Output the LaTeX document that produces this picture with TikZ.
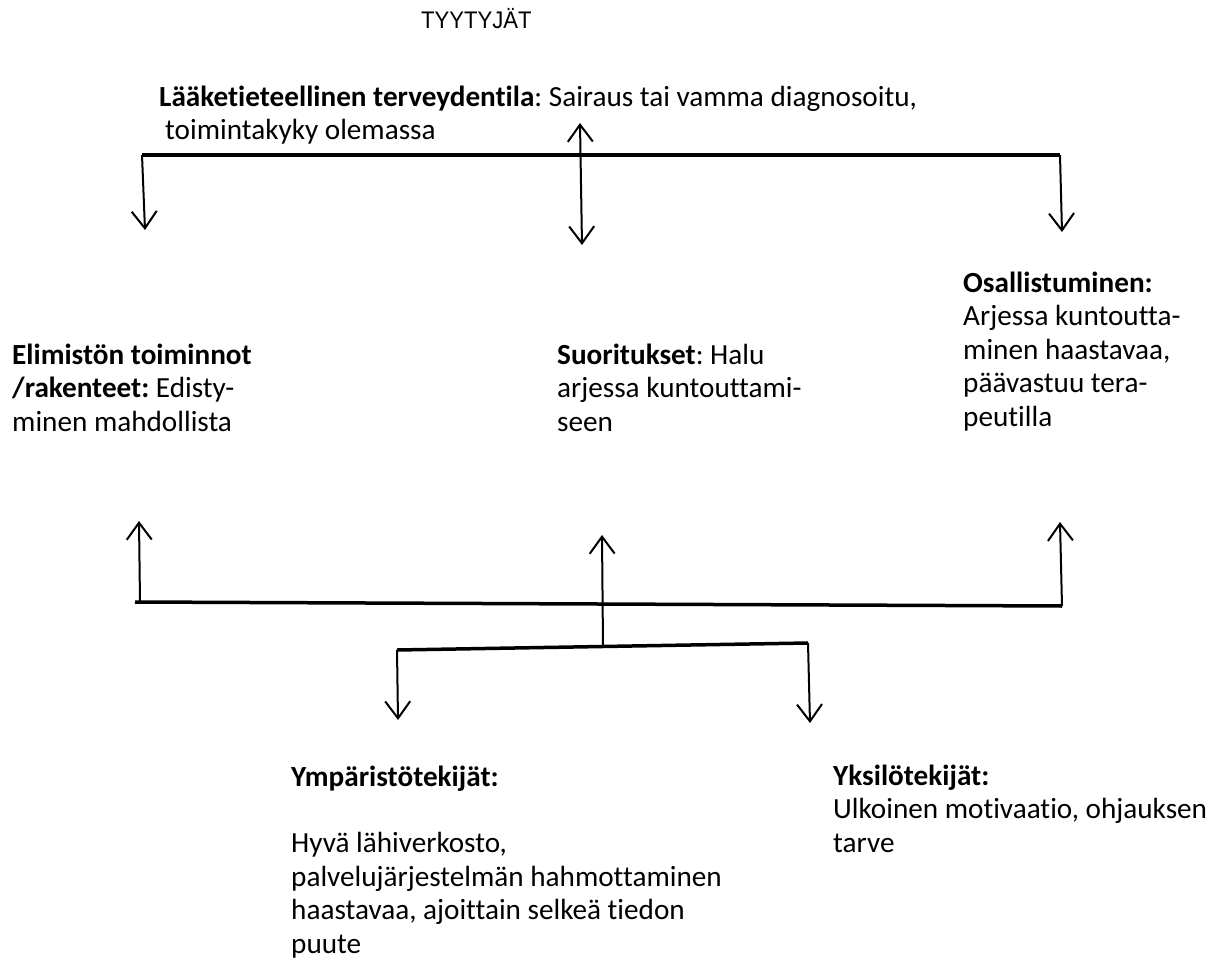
\documentclass[tikz,border=0pt]{standalone}
\usepackage{fontspec}
\setmainfont{Carlito}[Ligatures=NoCommon]
\newfontfamily\titlefont{Liberation Sans}
\usetikzlibrary{arrows.meta}
\frenchspacing

\begin{document}
\begin{tikzpicture}[x=1pt,y=-1pt,
  % multi-line text: the anchor sits on the baseline of the last line
  txt/.style={anchor=base west, align=left, inner sep=0pt,
              font=\fontsize{29.2}{33.5}\selectfont},
  bar/.style={line width=3.5pt},
  conn/.style={line width=2pt},
  arr/.style={conn, -{Straight Barb[length=17pt,width=25pt]}},
  darr/.style={conn, {Straight Barb[length=17pt,width=25pt]}-{Straight Barb[length=17pt,width=25pt]}},
]
\useasboundingbox (0,0) rectangle (1227,974);

% heading and text blocks
\node[anchor=base west, inner sep=0pt, font=\titlefont\fontsize{24}{28}\selectfont] (title) at (421,29) {\scalebox{0.92}[1]{TYYTYJÄT}};
\node[txt] (health) at (159,139.5) {\textbf{Lääketieteellinen terveydentila}: Sairaus tai vamma diagnosoitu,\\\hspace{6pt}toimintakyky olemassa};
\node[txt] (body) at (12,431) {\textbf{Elimistön toiminnot}\\\textbf{/rakenteet:} Edisty-\\minen mahdollista};
\node[txt] (activity) at (557,431) {\textbf{Suoritukset}: Halu\\arjessa kuntouttami-\\seen};
\node[txt] (particip) at (963,426) {\textbf{Osallistuminen:}\\Arjessa kuntoutta-\\minen haastavaa,\\päävastuu tera-\\peutilla};
\node[txt] (environ) at (291,953) {\textbf{Ympäristötekijät:}\\[33pt]Hyvä lähiverkosto,\\palvelujärjestelmän hahmottaminen\\haastavaa, ajoittain selkeä tiedon\\puute};
\node[txt] (personal) at (833,852) {\textbf{Yksilötekijät:}\\Ulkoinen motivaatio, ohjauksen\\tarve};

% upper distribution bar
\coordinate (tl) at (142,155);
\coordinate (tr) at (1060,155);
\coordinate (tlTip) at (145,230);
\coordinate (tmTop) at (580,123);
\coordinate (tmBot) at (582,245);
\coordinate (trTip) at (1062,232);
\draw[bar] (tl) -- (tr);
\draw[arr] (tl) -- (tlTip);
\draw[darr] (tmTop) -- (tmBot);
\draw[arr] (tr) -- (trTip);

% lower collecting bar
\coordinate (bl) at (135,602);
\coordinate (br) at (1062,606);
\coordinate (blFoot) at (140,602);
\coordinate (blTip) at (139,521);
\coordinate (brTip) at (1060,522);
\coordinate (bmTip) at (602,535);
\draw[bar] (bl) -- (br);
\draw[arr] (blFoot) -- (blTip);
\draw[arr] (br) -- (brTip);

% contextual factors bar
\coordinate (cl) at (397,650);
\coordinate (cr) at (808,643);
\coordinate (cm) at (603,646.5);
\coordinate (clTip) at (398,720);
\coordinate (crTip) at (810,723);
\draw[bar] (cl) -- (cr);
\draw[arr] (cm) -- (bmTip);
\draw[arr] (cl) -- (clTip);
\draw[arr] (cr) -- (crTip);
\end{tikzpicture}
\end{document}
